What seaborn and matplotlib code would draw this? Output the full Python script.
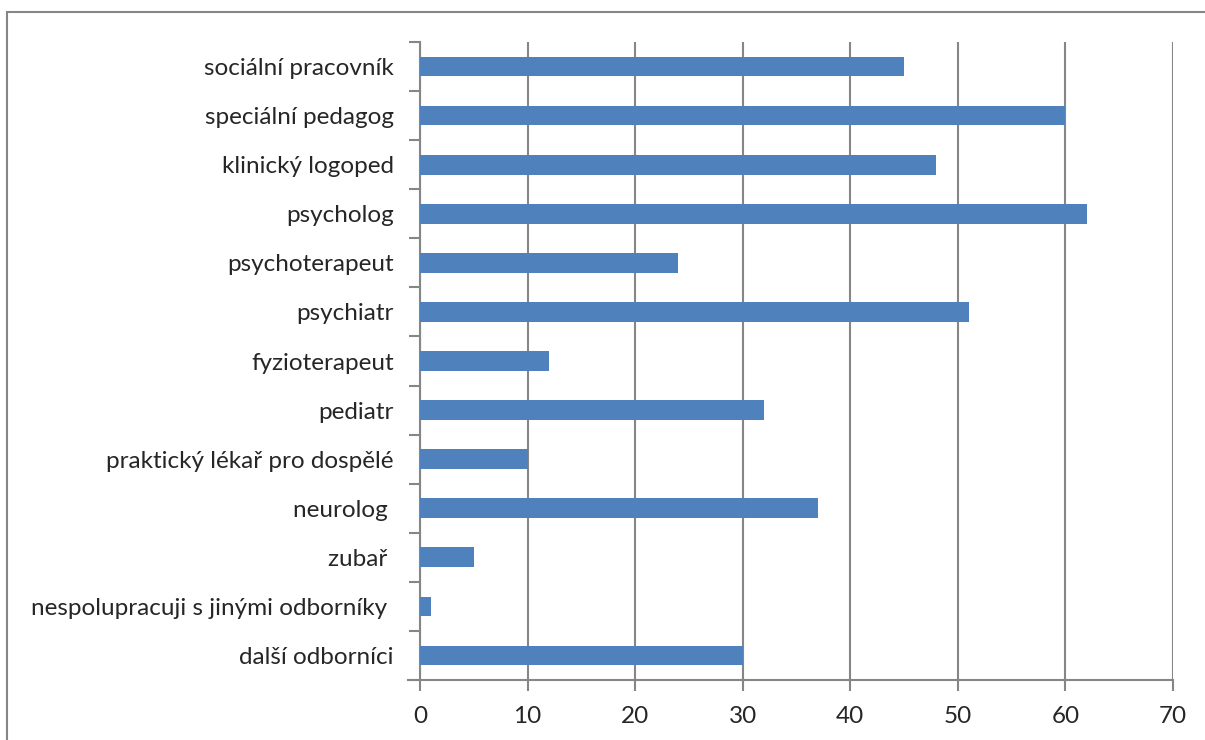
import matplotlib
matplotlib.use("Agg")
import matplotlib.pyplot as plt
import pandas as pd
import seaborn as sns
from matplotlib.patches import Rectangle

categories = [
    "sociální pracovník", "speciální pedagog", "klinický logoped", "psycholog",
    "psychoterapeut", "psychiatr", "fyzioterapeut", "pediatr",
    "praktický lékař pro dospělé", "neurolog ", "zubař ",
    "nespolupracuji s jinými odborníky ", "další odborníci",
]
values = [45, 60, 48, 62, 24, 51, 12, 32, 10, 37, 5, 1, 30]
x_ticks = [0, 10, 20, 30, 40, 50, 60, 70]

df = pd.DataFrame({"kategorie": categories, "pocet": values})

sns.set_style("white")
plt.rcParams["font.family"] = ["Lato", "DejaVu Sans"]

fig = plt.figure(figsize=(12.05, 7.4), dpi=100)
ax = fig.add_axes([420 / 1205, 1 - 680 / 740, (1173 - 420) / 1205, (680 - 42) / 740])

grid_col = "#868686"
sns.barplot(data=df, y="kategorie", x="pocet", color="#4F81BD", width=0.4,
            saturation=1, linewidth=0, ax=ax, zorder=3)

ax.set_xlim(0, 70)
ax.set_ylim(len(categories) - 0.5, -0.5)
ax.set_xticks(x_ticks)
ax.xaxis.grid(True, color=grid_col, linewidth=1.5, zorder=0)
ax.yaxis.grid(False)
ax.set_xlabel("")
ax.set_ylabel("")

# category ticks sit between bars
ax.set_yticks([i + 0.5 for i in range(-1, len(categories))], minor=True)
ax.tick_params(axis="y", which="minor", length=8, width=1.5, color=grid_col, left=True)
ax.tick_params(axis="y", which="major", length=0, pad=19, labelsize=17.5)
ax.tick_params(axis="x", length=8, width=1.5, color=grid_col, bottom=True,
               pad=11, labelsize=17.5)

for side in ["top", "right"]:
    ax.spines[side].set_visible(False)
for side in ["left", "bottom"]:
    ax.spines[side].set_color(grid_col)
    ax.spines[side].set_linewidth(1.5)
ax.spines["bottom"].set_bounds(-1.1, 70)

fig.patches.append(Rectangle((7 / 1205, -0.1), 1.2, 1 - 12 / 740 + 0.1,
                             transform=fig.transFigure, fill=False,
                             edgecolor=grid_col, linewidth=1.5))

fig.savefig("out.png", dpi=100)
